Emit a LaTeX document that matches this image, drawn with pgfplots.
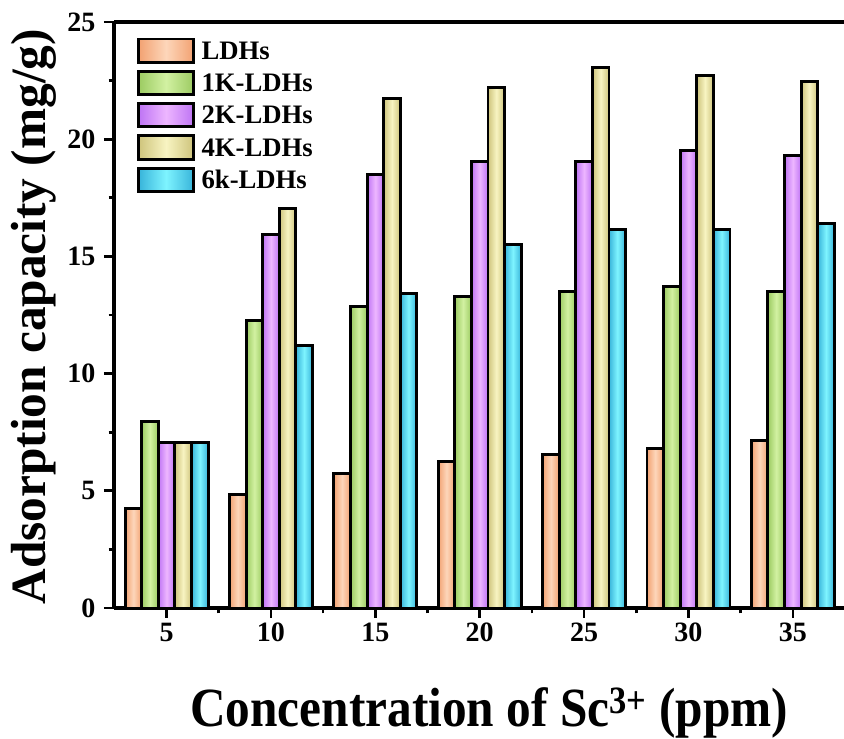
\documentclass[border=0pt]{standalone}
\usepackage{pgfplots}
\usepackage{pgfplotstable}
\pgfplotsset{compat=1.18}
\usepackage{fontspec}
\setmainfont{Liberation Serif}
\usetikzlibrary{calc}

\definecolor{cLa}{HTML}{F2A272}\definecolor{cLb}{HTML}{FDD6BA}
\definecolor{c1a}{HTML}{9CCB62}\definecolor{c1b}{HTML}{D2F1A2}
\definecolor{c2a}{HTML}{BE74F4}\definecolor{c2b}{HTML}{EDB6FF}
\definecolor{c4a}{HTML}{CEC47C}\definecolor{c4b}{HTML}{F8F4C2}
\definecolor{c6a}{HTML}{38B4DA}\definecolor{c6b}{HTML}{7EF4FF}

\pgfplotstableread{
x   LDHs  K1     K2     K4     K6
5   4.25  7.95   7.05   7.05   7.05
10  4.85  12.25  15.92  17.05  11.20
15  5.75  12.88  18.50  21.75  13.40
20  6.25  13.30  19.05  22.20  15.52
25  6.55  13.52  19.05  23.05  16.15
30  6.80  13.70  19.50  22.70  16.15
35  7.15  13.52  19.30  22.45  16.40
}\data

\newcommand{\barseries}[4]{%
  \pgfplotsinvokeforeach{5,10,15,20,25,30,35}{%
    \addplot[forget plot, draw=black, line width=2.2pt, left color=#2, right color=#2, middle color=#3,
      bar shift=#4, x filter/.expression={abs(x-##1)<0.1 ? x : nan}]
      table[x=x, y=#1]{\data};
  }%
}

\begin{document}
\begin{tikzpicture}
\begin{axis}[
  scale only axis,
  width=547.5pt, height=439.5pt,
  xmin=2.48, xmax=37.45,
  ymin=0, ymax=25,
  axis x line*=box,
  axis y line*=left,
  axis line style={line width=2.6pt},
  xtick={5,10,...,35},
  ytick={0,5,...,25},
  minor x tick num=1,
  minor y tick num=1,
  xtick pos=bottom,
  ytick pos=left,
  tick align=outside,
  major tick length=7.5pt,
  minor tick length=4pt,
  tick style={line width=2pt, black},
  /pgf/number format/assume math mode=true,
  ticklabel style={font=\fontsize{21}{21}\selectfont\bfseries},
  yticklabel style={xshift=-3pt},
  ybar=0pt,
  bar width=12.45pt,
  xlabel={\scalebox{1}[1.12]{Concentration of Sc\textsuperscript{3+} (ppm)}},
  xlabel style={font=\fontsize{37}{40}\selectfont\bfseries, at={(axis description cs:0.514,0)}, anchor=base, yshift=-89pt},
  ylabel={Adsorption capacity (mg/g)},
  ylabel style={font=\fontsize{37}{40}\selectfont\bfseries, at={(axis description cs:-0.0932,0.497)}, anchor=base},
  legend style={at={(axis description cs:0.0315,0.974)}, anchor=north west, draw=none, fill=none,
    font=\fontsize{20}{20}\selectfont\bfseries, row sep=4.5pt, inner sep=0pt,
    nodes={inner sep=0.6pt, anchor=base west},
    /tikz/every odd column/.append style={column sep=4.5pt}},
  legend cell align=left,
  legend image code/.code={\draw[#1] (0pt,-2.15pt) rectangle (41pt,15.35pt);},
]
\barseries{LDHs}{cLa}{cLb}{-24.9pt}
\barseries{K1}{c1a}{c1b}{-12.45pt}
\barseries{K2}{c2a}{c2b}{0pt}
\barseries{K4}{c4a}{c4b}{12.45pt}
\barseries{K6}{c6a}{c6b}{24.9pt}
\addlegendimage{draw=black, line width=2.2pt, left color=cLa, right color=cLa, middle color=cLb}
\addlegendentry{LDHs}
\addlegendimage{draw=black, line width=2.2pt, left color=c1a, right color=c1a, middle color=c1b}
\addlegendentry{1K-LDHs}
\addlegendimage{draw=black, line width=2.2pt, left color=c2a, right color=c2a, middle color=c2b}
\addlegendentry{2K-LDHs}
\addlegendimage{draw=black, line width=2.2pt, left color=c4a, right color=c4a, middle color=c4b}
\addlegendentry{4K-LDHs}
\addlegendimage{draw=black, line width=2.2pt, left color=c6a, right color=c6a, middle color=c6b}
\addlegendentry{6k-LDHs}
\coordinate (sw) at (rel axis cs:0,0);
\end{axis}
\pgfresetboundingbox
\path[use as bounding box] ($(sw)+(-85.5pt,-98.25pt)$) rectangle ($(sw)+(547.5pt,456pt)$);
\end{tikzpicture}
\end{document}
